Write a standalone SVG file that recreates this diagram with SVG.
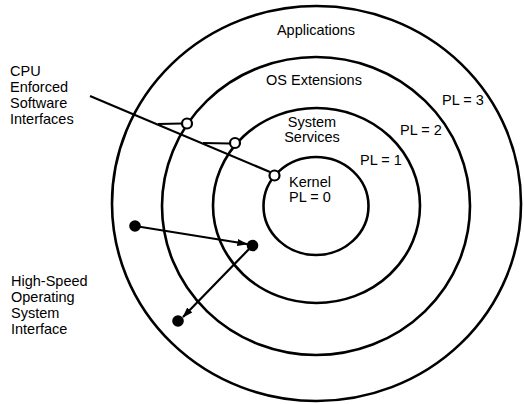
<svg xmlns="http://www.w3.org/2000/svg" width="524" height="404" viewBox="0 0 524 404">
  <style>
    .ring { fill: none; stroke: #000; stroke-width: 2.6; }
    .lbl { font-family: "Liberation Sans", Arial, sans-serif; font-size: 14.5px; fill: #000; }
    .mid { text-anchor: middle; }
    .wire { fill: none; stroke: #000; stroke-width: 2.2; }
    .port { fill: #fff; stroke: #000; stroke-width: 2.2; }
    .dot { fill: #000; }
  </style>
  <defs>
    <marker id="head" viewBox="0 0 12 10" refX="11" refY="5" markerWidth="5" markerHeight="4" orient="auto" markerUnits="strokeWidth">
      <path d="M0,1 L12,5 L0,9 Z" fill="#000"/>
    </marker>
  </defs>

  <rect width="524" height="404" fill="#fff"/>

  <!-- privilege rings -->
  <g id="ring-pl3">
    <ellipse class="ring" cx="316.5" cy="203.5" rx="204.5" ry="197.5"/>
    <text class="lbl mid" x="316" y="35">Applications</text>
    <text class="lbl" x="442" y="105">PL = 3</text>
  </g>
  <g id="ring-pl2">
    <ellipse class="ring" cx="316" cy="206" rx="154" ry="149"/>
    <text class="lbl mid" x="314" y="85">OS Extensions</text>
    <text class="lbl" x="400" y="135">PL = 2</text>
  </g>
  <g id="ring-pl1">
    <ellipse class="ring" cx="316.5" cy="205.5" rx="103.5" ry="97.5"/>
    <text class="lbl mid" x="312" y="127">System</text>
    <text class="lbl mid" x="312" y="142">Services</text>
    <text class="lbl" x="360" y="165">PL = 1</text>
  </g>
  <g id="ring-pl0">
    <ellipse class="ring" cx="316" cy="206" rx="52.5" ry="49"/>
    <text class="lbl mid" x="310" y="187">Kernel</text>
    <text class="lbl mid" x="310" y="202">PL = 0</text>
  </g>

  <!-- side captions -->
  <g id="caption-cpu">
    <text class="lbl" x="10" y="76">CPU</text>
    <text class="lbl" x="10" y="92">Enforced</text>
    <text class="lbl" x="10" y="108">Software</text>
    <text class="lbl" x="10" y="124">Interfaces</text>
  </g>
  <g id="caption-hs">
    <text class="lbl" x="11" y="286">High-Speed</text>
    <text class="lbl" x="11" y="302">Operating</text>
    <text class="lbl" x="11" y="318">System</text>
    <text class="lbl" x="11" y="334">Interface</text>
  </g>

  <!-- connectors -->
  <g id="connectors">
    <path class="wire" d="M90,96 L270,172"/>
    <path class="wire" d="M158,124 L182,123.5"/>
    <path class="wire" d="M203,143 L230,143.5"/>
    <path class="wire" d="M135,226 L247,244" marker-end="url(#head)"/>
    <path class="wire" d="M252,246 L183,317" marker-end="url(#head)"/>
  </g>

  <!-- gates and endpoints -->
  <g id="gate-pl2"><circle class="port" cx="187" cy="123.5" r="5"/></g>
  <g id="gate-pl1"><circle class="port" cx="235" cy="143" r="5"/></g>
  <g id="gate-pl0"><circle class="port" cx="274.5" cy="175.5" r="5"/></g>
  <g id="call-src"><circle class="dot" cx="135" cy="226" r="5.8"/></g>
  <g id="call-mid"><circle class="dot" cx="252.5" cy="245.5" r="5.8"/></g>
  <g id="call-dst"><circle class="dot" cx="178" cy="321" r="5.8"/></g>
</svg>
